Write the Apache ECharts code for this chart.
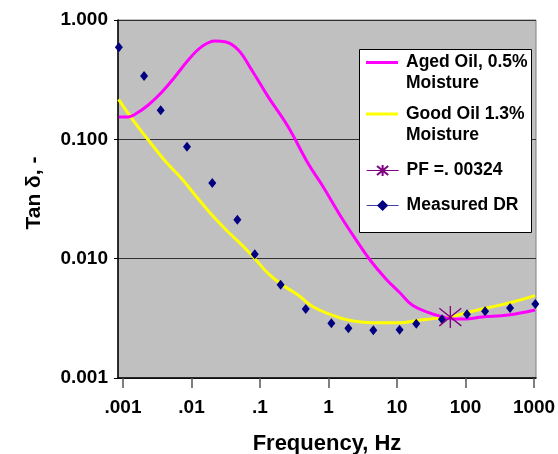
<!DOCTYPE html>
<html>
<head>
<meta charset="utf-8">
<title>Tan delta vs frequency</title>
<script src="https://cdn.jsdelivr.net/npm/echarts@6/dist/echarts.min.js"></script>
<style>
  html, body { margin: 0; padding: 0; background: #fff; }
  #chart { width: 558px; height: 454px; }
</style>
</head>
<body>
<div id="chart"></div>
<script>
// model curve, aged oil 0.5% moisture (Hz, tan delta)
const agedFreq = [0.00087, 0.00118, 0.0015, 0.00234, 0.00367, 0.00574, 0.00897, 0.0141, 0.022, 0.0308,
  0.0482, 0.0757, 0.131, 0.256, 0.502, 0.804, 1.57, 2.44, 4.04, 6.9,
  11.1, 16.6, 28.4, 45.4, 70.3, 98.4, 174, 417, 1035]
const agedTan = [0.154, 0.154, 0.162, 0.194, 0.248, 0.335, 0.462, 0.598, 0.667, 0.658,
  0.561, 0.381, 0.228, 0.128, 0.0629, 0.0414, 0.0218, 0.0148, 0.00975, 0.00676,
  0.00516, 0.00409, 0.00355, 0.00326, 0.00312, 0.00312, 0.00324, 0.00337, 0.00372]

// model curve, good oil 1.3% moisture
const goodFreq = [0.00086, 0.00134, 0.00234, 0.00425, 0.00727, 0.01125, 0.0199, 0.0341, 0.0546, 0.0874,
  0.131, 0.213, 0.359, 0.594, 1.12, 1.93, 4.32, 11.1, 18.3, 35.9,
  59.4, 109, 213, 477, 1035]
const goodTan = [0.216, 0.150, 0.0987, 0.0646, 0.0465, 0.0342, 0.0232, 0.0168, 0.0130, 0.00975,
  0.00754, 0.00601, 0.00496, 0.00395, 0.00337, 0.00306, 0.00291, 0.00291, 0.00301, 0.00316,
  0.00324, 0.00356, 0.00388, 0.00431, 0.00490]

// measured dielectric response
const measuredFreq = [0.00087, 0.00203, 0.00355, 0.00859, 0.0201, 0.0467, 0.0838, 0.2, 0.465, 1.1,
  1.95, 4.51, 10.9, 19.1, 45.4, 105, 193, 447, 1045]
const measuredTan = [0.59, 0.34, 0.175, 0.0867, 0.0431, 0.0212, 0.0109, 0.00605, 0.00379, 0.00287,
  0.00261, 0.00251, 0.00254, 0.00285, 0.00311, 0.00342, 0.00362, 0.00386, 0.00417]

// power factor point at line frequency
const pfFreq = [60]
const pfTan = [0.00324]

// axis ticks
const xTickValues = [0.001, 0.01, 0.1, 1, 10, 100, 1000]
const xTickLabels = ['.001', '.01', '.1', '1', '10', '100', '1000']
const xMin = 0.000845
const xMax = 1069
const yMin = 0.001
const yMax = 1

const names = ['Aged Oil, 0.5%\nMoisture', 'Good Oil 1.3%\nMoisture', 'PF =. 00324', 'Measured DR']

const zip = (xs, ys) => xs.map((x, i) => [x, ys[i]])

const FONT = "'Liberation Sans', Arial, sans-serif"
const asterisk = 'path://M10,0L10,20M1,2L19,18M1,18L19,2'

const legendText = {fontFamily: FONT, fontSize: 17.5, fontWeight: 'bold', color: '#000', lineHeight: 21, padding: [0, 0, 0, 3]}

// one legend per entry so the two-line names keep their key on the first line
const makeLegend = (name, top, extra) => Object.assign({
  orient: 'vertical',
  left: 366,
  top: top,
  padding: 0,
  itemWidth: 32,
  itemHeight: 14,
  z: 20,
  textStyle: legendText,
  data: [name]
}, extra)

const chart = echarts.init(document.getElementById('chart'), null, {renderer: 'canvas'})

const option = {
  animation: false,
  textStyle: {fontFamily: FONT},
  grid: {
    left: 118, right: 22, top: 20, bottom: 76,
    outerBoundsMode: 'none',
    show: true,
    backgroundColor: '#C0C0C0',
    borderColor: '#808080',
    borderWidth: 1
  },
  graphic: [{
    // legend frame
    type: 'rect',
    z: 15,
    shape: {x: 359.5, y: 49.5, width: 172, height: 183},
    style: {fill: '#fff', stroke: '#000', lineWidth: 1}
  }],
  xAxis: {
    type: 'log',
    logBase: 10,
    min: xMin,
    max: xMax,
    name: 'Frequency, Hz',
    nameLocation: 'middle',
    nameGap: 55,
    nameTextStyle: {fontSize: 22, fontWeight: 'bold', color: '#000', fontFamily: FONT},
    axisLine: {show: true, lineStyle: {color: '#000', width: 1.5}},
    axisTick: {show: true, customValues: xTickValues, length: 10, lineStyle: {color: '#555', width: 1.5}},
    axisLabel: {
      customValues: xTickValues,
      margin: 20,
      fontSize: 19,
      fontWeight: 'bold',
      color: '#000',
      fontFamily: FONT,
      formatter: (v) => xTickLabels[Math.round(Math.log10(v)) + 3]
    },
    splitLine: {show: false}
  },
  yAxis: {
    type: 'log',
    logBase: 10,
    min: yMin,
    max: yMax,
    name: 'Tan δ, -',
    nameLocation: 'middle',
    nameGap: 73,
    nameTextStyle: {fontSize: 21, fontWeight: 'bold', color: '#000', fontFamily: FONT, padding: [0, 0, 0, 12]},
    axisLine: {show: true, lineStyle: {color: '#000', width: 1.5}},
    axisTick: {show: true, length: 4, lineStyle: {color: '#000'}},
    axisLabel: {
      margin: 10,
      fontSize: 19,
      fontWeight: 'bold',
      color: '#000',
      fontFamily: FONT,
      formatter: (v) => Number(v).toFixed(3)
    },
    splitLine: {show: true, lineStyle: {color: '#303030', width: 1}}
  },
  legend: [
    makeLegend({name: names[0], icon: 'rect'}, 31, {itemHeight: 3, formatter: (n) => '\n' + n}),
    makeLegend({name: names[1], icon: 'rect'}, 82.5, {itemHeight: 3, formatter: (n) => '\n' + n}),
    makeLegend({name: names[2], lineStyle: {width: 1.2}}, 160),
    makeLegend({name: names[3], lineStyle: {width: 1.2, color: '#4040a0'}}, 195)
  ],
  series: [
    {
      name: names[0],
      type: 'line',
      data: zip(agedFreq, agedTan),
      smooth: 0.4,
      symbol: 'none',
      itemStyle: {color: '#FF00FF'},
      lineStyle: {color: '#FF00FF', width: 3},
      z: 3
    },
    {
      name: names[1],
      type: 'line',
      data: zip(goodFreq, goodTan),
      smooth: 0.4,
      symbol: 'none',
      itemStyle: {color: '#FFFF00'},
      lineStyle: {color: '#FFFF00', width: 3},
      z: 2
    },
    {
      name: names[2],
      type: 'line',
      data: zip(pfFreq, pfTan),
      symbol: asterisk,
      symbolSize: 22,
      itemStyle: {color: '#800080', borderColor: '#800080', borderWidth: 1.3},
      lineStyle: {color: '#800080', width: 1},
      z: 5
    },
    {
      name: names[3],
      type: 'line',
      data: zip(measuredFreq, measuredTan),
      symbol: 'diamond',
      symbolSize: [8, 10],
      showSymbol: true,
      itemStyle: {color: '#000080'},
      lineStyle: {width: 0},
      z: 4
    }
  ]
}

chart.setOption(option)
</script>
</body>
</html>
